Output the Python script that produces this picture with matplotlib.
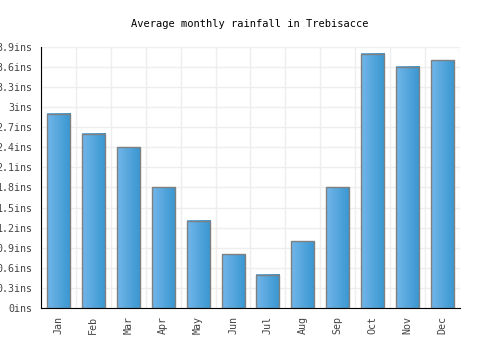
import matplotlib
matplotlib.use("Agg")
import matplotlib.pyplot as plt
import numpy as np
from matplotlib.colors import LinearSegmentedColormap

months = ['Jan', 'Feb', 'Mar', 'Apr', 'May', 'Jun', 'Jul', 'Aug', 'Sep', 'Oct', 'Nov', 'Dec']
rainfall = [2.9, 2.6, 2.4, 1.8, 1.3, 0.8, 0.5, 1.0, 1.8, 3.8, 3.6, 3.7]
yticks = [0, 0.3, 0.6, 0.9, 1.2, 1.5, 1.8, 2.1, 2.4, 2.7, 3.0, 3.3, 3.6, 3.9]

plt.rcParams['font.family'] = ['DejaVu Sans Mono']

fig = plt.figure(figsize=(5, 3.5), dpi=100)
ax = fig.add_axes([0.082, 0.12, 0.838, 0.746])

cmap = LinearSegmentedColormap.from_list('bluegrad', ['#72b6ea', '#3896d0'])
grad = np.linspace(0, 1, 64).reshape(1, -1)
w = 0.66
x = np.arange(len(months))
for xi, v in zip(x, rainfall):
    ax.imshow(grad, cmap=cmap, aspect='auto', extent=(xi - w / 2, xi + w / 2, 0, v), zorder=2)
ax.bar(x, rainfall, width=w, facecolor='none', edgecolor='#808080', linewidth=1, zorder=3)

ax.set_xlim(-0.5, 11.5)
ax.set_ylim(0, 3.9)
ax.set_xticks(x)
ax.set_xticklabels(months, rotation=90, fontsize=7.2, color='#444444')
ax.set_yticks(yticks)
ax.set_yticklabels(['%gins' % t for t in yticks], fontsize=7.2, color='#444444')
ax.set_xticks(np.arange(-0.5, 12, 1), minor=True)
ax.tick_params(axis='both', which='both', length=0, pad=6)
ax.grid(True, which='minor', axis='x', color='#eeeeee', linewidth=1, zorder=0)
ax.grid(True, which='major', axis='y', color='#eeeeee', linewidth=1, zorder=0)
ax.set_axisbelow(True)
for s in ['top', 'right']:
    ax.spines[s].set_visible(False)
ax.spines['left'].set_color('black')
ax.spines['bottom'].set_color('black')

fig.suptitle('Average monthly rainfall in Trebisacce', y=0.945, fontsize=7.5)

fig.savefig('out.png')
